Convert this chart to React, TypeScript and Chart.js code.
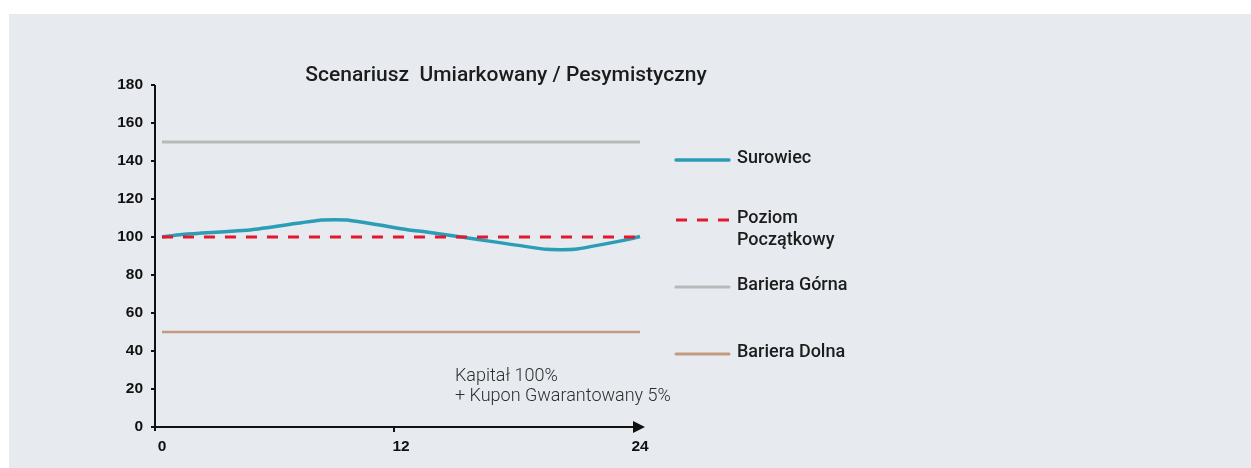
import React, { useEffect, useRef } from "react";
import { Chart, registerables } from "chart.js";

Chart.register(...registerables);

// ---- data ----
const months = [0, 1, 4.5, 8, 9.3, 12.5, 13.2, 15.8, 19.3, 20.7, 23.3, 24];
const surowiec = [100, 101.3, 103.8, 108.9, 108.9, 103.6, 102.8, 98.8, 93.5, 93.5, 98.5, 100.3];
const levelMonths = [0, 24];
const poziomPoczatkowy = [100, 100];
const barieraGorna = [150, 150];
const barieraDolna = [50, 50];
const xTickValues = [0, 12, 24];
const yTickStep = 20;
const yMin = 0;
const yMax = 180;
const chartTitle = "Scenariusz  Umiarkowany / Pesymistyczny";
const annotationLines = ["Kapitał 100%", "+ Kupon Gwarantowany 5%"];
const legendLabels = ["Surowiec", "Poziom\nPoczątkowy", "Bariera Górna", "Bariera Dolna"];

const COLORS = {
  surowiec: "#2b9db6",
  poziom: "#e3172d",
  gorna: "#b9b9b9",
  dolna: "#c49b82",
  axis: "#111111",
  text: "#1c1c1c",
  panel: "#e7eaef",
};

const toPoints = (xs: number[], ys: number[]) => xs.map((x, i) => ({ x, y: ys[i] }));

const decorPlugin = {
  id: "decor",
  afterDraw(chart: any) {
    const { ctx, chartArea, scales } = chart;
    const ys = scales.y;
    const left = chartArea.left;
    const bottom = ys.getPixelForValue(yMin);
    const top = ys.getPixelForValue(yMax);
    const right = chartArea.right;
    ctx.save();
    // y axis
    ctx.strokeStyle = COLORS.axis;
    ctx.lineWidth = 2;
    ctx.beginPath();
    ctx.moveTo(left, top);
    ctx.lineTo(left, bottom + 4);
    ctx.stroke();
    for (let v = yMin; v <= yMax; v += yTickStep) {
      const py = ys.getPixelForValue(v);
      ctx.beginPath();
      ctx.moveTo(left - 4, py);
      ctx.lineTo(left, py);
      ctx.stroke();
    }
    // x axis with arrow
    const arrowLen = 12;
    ctx.beginPath();
    ctx.moveTo(left - 4, bottom);
    ctx.lineTo(right - arrowLen + 1, bottom);
    ctx.stroke();
    ctx.fillStyle = COLORS.axis;
    ctx.beginPath();
    ctx.moveTo(right, bottom);
    ctx.lineTo(right - arrowLen, bottom - 6);
    ctx.lineTo(right - arrowLen, bottom + 6);
    ctx.closePath();
    ctx.fill();
    // mid tick
    const midX = (left + right - arrowLen) / 2;
    ctx.beginPath();
    ctx.moveTo(midX, bottom);
    ctx.lineTo(midX, bottom + 5);
    ctx.stroke();

    // title
    ctx.fillStyle = COLORS.text;
    ctx.font = "500 21px Roboto";
    ctx.textAlign = "center";
    ctx.textBaseline = "middle";
    ctx.fillText(chartTitle, 506, 76);

    // legend
    const rows = [
      { y: 160, color: COLORS.surowiec, dash: [] as number[], width: 3.5 },
      { y: 220, color: COLORS.poziom, dash: [11, 10], width: 3 },
      { y: 287, color: COLORS.gorna, dash: [] as number[], width: 3 },
      { y: 354, color: COLORS.dolna, dash: [] as number[], width: 3 },
    ];
    rows.forEach((r, i) => {
      ctx.strokeStyle = r.color;
      ctx.lineWidth = r.width;
      ctx.lineCap = r.dash.length ? "butt" : "round";
      ctx.setLineDash(r.dash);
      ctx.beginPath();
      ctx.moveTo(676, r.y);
      ctx.lineTo(729, r.y);
      ctx.stroke();
      ctx.setLineDash([]);
      ctx.fillStyle = COLORS.text;
      ctx.font = "500 18px Roboto";
      ctx.textAlign = "left";
      ctx.textBaseline = "middle";
      legendLabels[i].split("\n").forEach((line, j) => {
        ctx.fillText(line, 737, r.y - 2 + j * 22);
      });
    });

    // annotation
    ctx.fillStyle = "#2e2e2e";
    ctx.font = "300 18px Roboto";
    ctx.textAlign = "left";
    ctx.textBaseline = "middle";
    annotationLines.forEach((line, j) => {
      ctx.fillText(line, 455, 376 + j * 20);
    });
    ctx.restore();
  },
};

export default function App() {
  const canvasRef = useRef<HTMLCanvasElement | null>(null);

  useEffect(() => {
    if (!canvasRef.current) return;
    const chart = new Chart(canvasRef.current, {
      type: "line",
      data: {
        datasets: [
          {
            label: "Poziom Początkowy",
            data: toPoints(levelMonths, poziomPoczatkowy),
            borderColor: COLORS.poziom,
            borderWidth: 3,
            borderDash: [11, 10],
            pointRadius: 0,
            fill: false,
          },
          {
            label: "Surowiec",
            data: toPoints(months, surowiec),
            borderColor: COLORS.surowiec,
            borderWidth: 3.5,
            pointRadius: 0,
            tension: 0.12,
            fill: false,
          },
          {
            label: "Bariera Górna",
            data: toPoints(levelMonths, barieraGorna),
            borderColor: COLORS.gorna,
            borderWidth: 3,
            pointRadius: 0,
            fill: false,
          },
          {
            label: "Bariera Dolna",
            data: toPoints(levelMonths, barieraDolna),
            borderColor: COLORS.dolna,
            borderWidth: 2.5,
            pointRadius: 0,
            fill: false,
          },
        ],
      },
      options: {
        responsive: false,
        animation: false,
        layout: { padding: { top: 85, right: 606, left: 0, bottom: 0 } },
        plugins: {
          legend: { display: false },
          title: { display: false },
          tooltip: { enabled: false },
        },
        scales: {
          x: {
            type: "linear",
            min: -0.35,
            max: 24.25,
            grid: { display: false },
            border: { display: false },
            afterBuildTicks: (scale: any) => {
              scale.ticks = xTickValues.map((v) => ({ value: v }));
            },
            afterFit: (scale: any) => {
              scale.height = 41;
            },
            ticks: {
              padding: 2,
              color: COLORS.axis,
              font: { family: "Liberation Sans", size: 15.5, weight: "bold" },
              maxRotation: 0,
              autoSkip: false,
            },
          },
          y: {
            min: yMin,
            max: yMax,
            grid: { display: false },
            border: { display: false },
            afterFit: (scale: any) => {
              scale.width = 155;
            },
            ticks: {
              stepSize: yTickStep,
              padding: 4,
              color: COLORS.axis,
              font: { family: "Liberation Sans", size: 15.5, weight: "bold" },
            },
          },
        },
      },
      plugins: [decorPlugin],
    });
    return () => chart.destroy();
  }, []);

  return (
    <div style={{ position: "absolute", left: 0, top: 0, width: 1251, height: 468, background: "#ffffff" }}>
      <div
        style={{
          position: "absolute",
          left: 9,
          top: 14,
          width: 1242,
          height: 454,
          background: COLORS.panel,
        }}
      />
      <canvas
        ref={canvasRef}
        width={1251}
        height={468}
        style={{ position: "absolute", left: 0, top: 0, display: "block" }}
      />
    </div>
  );
}
